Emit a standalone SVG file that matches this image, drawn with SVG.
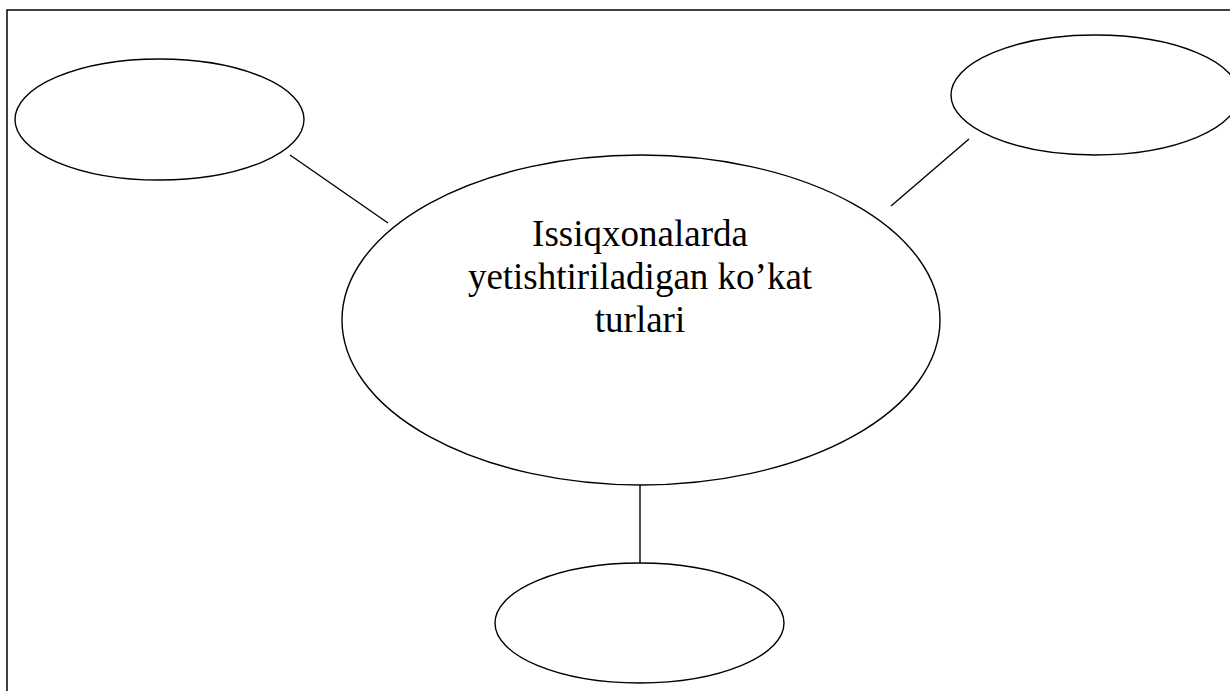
<svg xmlns="http://www.w3.org/2000/svg" width="1230" height="691" viewBox="0 0 1230 691">
<style>
.node{fill:#fff;stroke:#000;stroke-width:1.4}
.edge{stroke:#000;stroke-width:1.4;fill:none}
.border{fill:none;stroke:#111;stroke-width:1.6}
.lbl{font-family:"Liberation Serif","Times New Roman",serif;font-size:37px;fill:#000;text-anchor:middle}
</style>
<rect width="1230" height="691" fill="#fff"/>
<rect class="border" x="7" y="10" width="1240" height="700"/>
<g id="connectors">
<line class="edge" x1="290" y1="155" x2="388" y2="223"/>
<line class="edge" x1="969" y1="139" x2="891" y2="206"/>
<line class="edge" x1="640" y1="485" x2="640" y2="563"/>
</g>
<g id="node-left"><ellipse class="node" cx="159.5" cy="119.5" rx="144.5" ry="60.5"/></g>
<g id="node-right"><ellipse class="node" cx="1095" cy="95" rx="144" ry="60"/></g>
<g id="node-bottom"><ellipse class="node" cx="639.5" cy="623" rx="144.5" ry="60"/></g>
<g id="node-center">
<ellipse class="node" cx="641" cy="320" rx="299" ry="165"/>
<text class="lbl" x="640" y="246">Issiqxonalarda</text>
<text class="lbl" x="640" y="289">yetishtiriladigan ko’kat</text>
<text class="lbl" x="640" y="332">turlari</text>
</g>
</svg>
